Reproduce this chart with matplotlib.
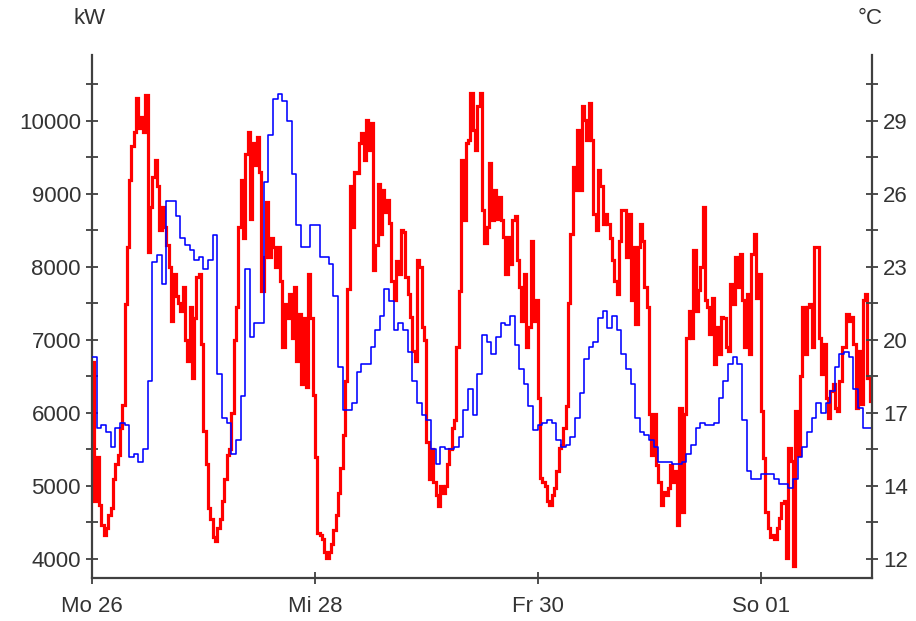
import matplotlib
matplotlib.use('Agg')
import matplotlib.pyplot as plt
import numpy as np

plt.rcParams['font.family'] = ['Liberation Sans', 'DejaVu Sans']

# ---------------- data ----------------
# electrical load, kW, half-hourly samples starting Mo 26 00:00
load_mon = [6700, 4800, 5400, 4740, 4460, 4330, 4420, 4600, 4700, 5100, 5300, 5430,
            5790, 6110, 7490, 8270, 9190, 9650, 9850, 10310, 9900, 10050, 9850, 10350,
            8200, 8820, 9230, 9460, 9100, 8500, 8820, 8550, 8300, 8000, 7260, 7900,
            7600, 7500, 7400, 7720, 7000, 6710, 7450, 6480, 7300, 7860, 7900, 6940]
load_tue = [5750, 5300, 4700, 4550, 4300, 4240, 4420, 4550, 4800, 5100, 5430, 5500,
            6000, 7000, 7450, 8550, 9190, 8400, 9550, 9850, 8650, 9700, 9400, 9780,
            9300, 7670, 8130, 8890, 8130, 8400, 8270, 8000, 8270, 7810, 6900, 7490,
            7300, 7630, 7030, 7720, 6710, 7350, 6390, 7300, 6350, 7900, 7300, 6250]
load_wed = [5400, 4350, 4330, 4280, 4100, 4020, 4100, 4200, 4400, 4600, 4900, 5250,
            5700, 6440, 7700, 9100, 8550, 9300, 9280, 9700, 9830, 9460, 10010, 9600,
            9970, 7950, 8300, 9140, 8450, 9050, 8750, 8910, 8600, 7810, 7540, 8080,
            7900, 8500, 8480, 7860, 7630, 7310, 6850, 6710, 8090, 8000, 7170, 7000]
load_thu = [5600, 5100, 5500, 5060, 4880, 4720, 5000, 4900, 5000, 5300, 5500, 5800,
            5900, 6900, 7670, 9460, 8640, 9700, 9740, 10380, 9880, 9600, 10200, 10380,
            8780, 8320, 8550, 9420, 8640, 9050, 8660, 8960, 8640, 8410, 7900, 8410,
            8040, 8640, 8690, 8090, 7720, 7260, 7900, 6900, 7170, 8360, 7260, 7540]
load_fri = [6200, 5110, 5060, 5000, 4800, 4740, 4880, 4970, 5200, 5520, 5560, 5790,
            6100, 7500, 8450, 9370, 9050, 9870, 9050, 10200, 10010, 9740, 10240, 9740,
            8730, 8500, 9330, 9100, 8590, 8730, 8590, 8400, 8100, 7810, 7630, 8360,
            8780, 8780, 8130, 8730, 7540, 8270, 7220, 8270, 8590, 8360, 7720, 7450]
load_sat = [5980, 5430, 5980, 5290, 5060, 4740, 4920, 4880, 4970, 5290, 5060, 5200,
            4460, 6070, 4650, 5980, 7030, 7400, 7030, 8230, 7400, 7680, 8000, 8820,
            7540, 7450, 7080, 7580, 6670, 7170, 6800, 7310, 7300, 6900, 6850, 7770,
            7490, 8130, 7720, 8180, 7540, 6900, 7630, 6800, 8180, 8450, 7580, 7900]
load_sun = [6020, 5380, 4650, 4420, 4300, 4330, 4280, 4420, 4560, 4760, 4790, 4010,
            5520, 5340, 3910, 6020, 5430, 6500, 7450, 6800, 7450, 7490, 6900, 8270,
            8270, 7030, 6530, 6940, 6210, 5930, 6300, 6390, 6070, 6020, 6440, 6900,
            6900, 7350, 7260, 7310, 6940, 6070, 6850, 6120, 7540, 7630, 6480, 6160]

# outdoor temperature, °C, hourly samples
temp_mon = [19.3, 16.4, 16.5, 16.2, 15.6, 16.4, 16.6, 16.5, 15.2, 15.3, 15.0, 15.5,
            18.3, 23.2, 23.5, 22.3, 25.7, 25.7, 25.1, 24.2, 23.9, 23.7, 23.3, 23.4]
temp_tue = [22.9, 23.3, 24.3, 18.6, 16.8, 16.6, 15.3, 15.9, 17.7, 22.9, 20.1, 20.7,
            20.7, 26.5, 28.4, 29.9, 30.1, 29.8, 29.0, 26.8, 24.7, 23.8, 23.8, 24.7]
temp_wed = [24.7, 23.4, 23.4, 23.1, 21.8, 18.9, 17.1, 17.1, 17.4, 18.7, 19.0, 19.0,
            19.7, 20.4, 21.0, 22.1, 21.6, 20.4, 20.7, 20.4, 19.5, 18.3, 17.4, 16.9]
temp_thu = [16.7, 15.5, 14.9, 15.6, 15.5, 15.5, 15.6, 16.0, 17.1, 18.0, 16.9, 18.6,
            20.2, 19.9, 19.4, 20.1, 20.7, 20.6, 21.0, 19.8, 18.8, 18.2, 17.3, 16.3]
temp_fri = [16.5, 16.6, 16.7, 16.6, 15.9, 15.6, 15.7, 16.0, 16.8, 17.8, 19.2, 19.7,
            19.9, 20.9, 21.2, 20.5, 21.0, 20.4, 19.4, 18.8, 18.2, 16.8, 16.2, 16.1]
temp_sat = [15.9, 15.6, 15.0, 15.0, 15.0, 14.9, 14.9, 15.0, 15.3, 15.7, 16.4, 16.6,
            16.5, 16.5, 16.6, 17.6, 18.3, 19.0, 19.3, 19.0, 16.7, 14.6, 14.3, 14.3]
temp_sun = [14.5, 14.5, 14.5, 14.3, 14.1, 14.1, 13.9, 14.3, 15.2, 15.6, 16.2, 16.8,
            17.4, 17.0, 17.4, 17.9, 18.9, 19.4, 19.5, 19.3, 18.0, 17.2, 16.4, 16.4]

day_ticks_h = [0, 48, 96, 144]
day_labels = ['Mo 26', 'Mi 28', 'Fr 30', 'So 01']
kw_ticks = [4000, 5000, 6000, 7000, 8000, 9000, 10000]
kw_minor = [4500, 5500, 6500, 7500, 8500, 9500, 10500]
temp_tick_labels = ['12', '14', '17', '20', '23', '26', '29']

# ---------------- assemble ----------------
load = np.array(load_mon + load_tue + load_wed + load_thu + load_fri + load_sat + load_sun, float)
temp = np.array(temp_mon + temp_tue + temp_wed + temp_thu + temp_fri + temp_sat + temp_sun, float)
t_load = np.arange(len(load)) * 0.5
t_temp = np.arange(len(temp)) * 1.0
span = 168.0

# temperature axis: linear with the kW axis (29 °C <-> 10000 kW, 3 °C per 1000 kW)
def kw_to_c(v):
    return 29 + (np.asarray(v, float) - 10000) * 0.003

ylo, yhi = 3740, 10900

fig = plt.figure(figsize=(9.16, 6.21), dpi=100)
ax = fig.add_axes([92 / 916, 1 - 578 / 621, 780 / 916, 523 / 621])
ax2 = ax.twinx()

ax.plot(np.append(t_load, span), np.append(load, load[-1]), drawstyle='steps-post',
        color='#ff0000', lw=2.3, solid_joinstyle='miter')
ax2.plot(np.append(t_temp, span), np.append(temp, temp[-1]), drawstyle='steps-post',
         color='#0000ff', lw=1.15)

ax.set_xlim(0, span)
ax.set_ylim(ylo, yhi)
ax2.set_ylim(kw_to_c(ylo), kw_to_c(yhi))

spine_c = '#404040'
text_c = '#333333'
for a in (ax, ax2):
    a.spines['top'].set_visible(False)
ax.spines['right'].set_visible(False)
ax2.spines['left'].set_visible(False)
ax2.spines['bottom'].set_visible(False)
for s in ('left', 'bottom'):
    ax.spines[s].set_color(spine_c)
    ax.spines[s].set_linewidth(1.6)
ax2.spines['right'].set_color(spine_c)
ax2.spines['right'].set_linewidth(1.6)

ax.set_yticks(kw_ticks)
ax.set_yticklabels([str(v) for v in kw_ticks])
ax.set_yticks(kw_minor, minor=True)
ax2.set_yticks(kw_to_c(kw_ticks))
ax2.set_yticklabels(temp_tick_labels)
ax2.set_yticks(kw_to_c(kw_minor), minor=True)

ax.set_xticks(day_ticks_h)
ax.set_xticklabels(day_labels)

for a in (ax, ax2):
    a.tick_params(axis='y', which='both', direction='inout', length=8, width=1.3,
                  color=spine_c, labelsize=16, labelcolor=text_c, pad=4)
ax.tick_params(axis='x', direction='inout', length=8, width=1.3, color=spine_c,
               labelsize=16, labelcolor=text_c, pad=9)

fig.text(90 / 916, 1 - 18 / 621, 'kW', ha='center', va='center', fontsize=16, color=text_c)
fig.text(870 / 916, 1 - 18 / 621, '°C', ha='center', va='center', fontsize=16, color=text_c)

fig.savefig('out.png', dpi=100)
